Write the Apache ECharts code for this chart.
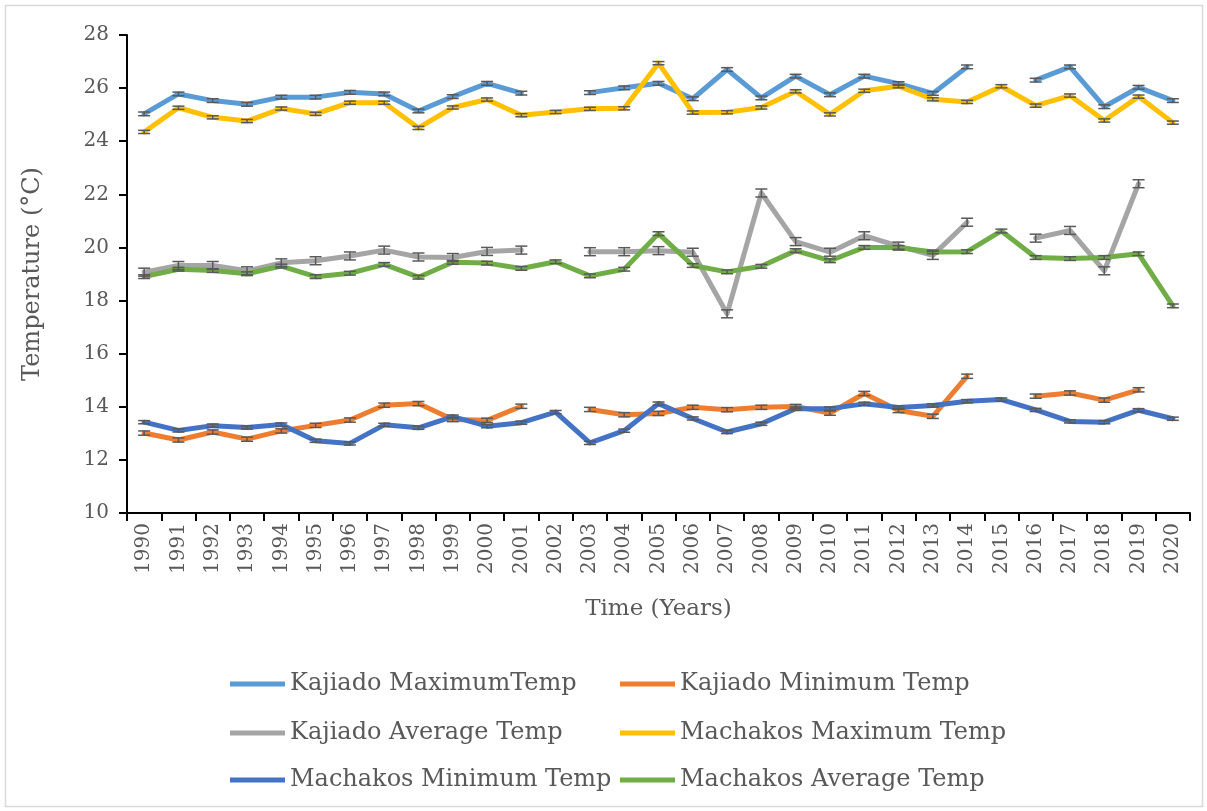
<!DOCTYPE html>
<html>
<head>
<meta charset="utf-8">
<script src="https://cdn.jsdelivr.net/npm/echarts@6/dist/echarts.min.js"></script>
<style>
html,body{margin:0;padding:0;background:#fff;}
#chart{width:1207px;height:811px;}
</style>
</head>
<body>
<div id="chart"></div>
<script>
const years = ['1990','1991','1992','1993','1994','1995','1996','1997','1998','1999','2000','2001','2002','2003','2004','2005','2006','2007','2008','2009','2010','2011','2012','2013','2014','2015','2016','2017','2018','2019','2020'];
const yTicks = {min: 10, max: 28, interval: 2};

const kajiadoMax = [25.03,25.78,25.53,25.39,25.66,25.66,25.84,25.78,25.14,25.68,26.18,25.81,null,25.83,26.01,26.18,25.6,26.7,25.63,26.45,25.75,26.45,26.17,25.8,26.8,null,26.3,26.8,25.3,26.03,25.53];
const kajiadoMin = [13.01,12.75,13.05,12.78,13.09,13.3,13.5,14.06,14.12,13.52,13.49,14.02,null,13.9,13.7,13.75,13.98,13.89,13.98,14.01,13.76,14.5,13.86,13.64,15.15,null,14.4,14.52,14.25,14.64,null];
const kajiadoAvg = [19.07,19.32,19.32,19.12,19.42,19.5,19.68,19.9,19.64,19.62,19.85,19.9,null,19.84,19.84,19.88,19.82,17.5,22.05,20.22,19.82,20.44,20.05,19.7,20.95,null,20.35,20.64,19.12,22.4,null];
const machakosMax = [24.35,25.26,24.9,24.76,25.23,25.03,25.45,25.45,24.5,25.27,25.57,24.98,25.1,25.22,25.24,26.94,25.08,25.09,25.27,25.88,25.01,25.9,26.07,25.58,25.48,26.07,25.34,25.72,24.78,25.68,24.7];
const machakosMin = [13.42,13.11,13.29,13.22,13.33,12.72,12.62,13.32,13.21,13.63,13.27,13.4,13.8,12.64,13.1,14.12,13.56,13.05,13.36,13.93,13.93,14.11,13.97,14.05,14.21,14.27,13.88,13.45,13.42,13.87,13.55];
const machakosAvg = [18.9,19.18,19.13,19.01,19.3,18.9,19.03,19.36,18.88,19.44,19.41,19.21,19.46,18.93,19.18,20.52,19.32,19.08,19.29,19.88,19.5,20.0,20.0,19.83,19.84,20.62,19.62,19.58,19.62,19.76,17.8];

const seriesNames = ['Kajiado MaximumTemp','Kajiado Minimum Temp','Kajiado Average Temp','Machakos Maximum Temp','Machakos Minimum Temp','Machakos Average Temp'];
const seriesValues = [kajiadoMax, kajiadoMin, kajiadoAvg, machakosMax, machakosMin, machakosAvg];
const seriesErrors = [0.07, 0.08, 0.15, 0.06, 0.06, 0.07];
const colors = ['#5B9BD5','#ED7D31','#A5A5A5','#FFC000','#4472C4','#70AD47'];

const FONT = 'DejaVu Serif';
const TXT = '#595959';

const chart = echarts.init(document.getElementById('chart'));

const lineSeries = seriesNames.map((n, i) => ({
  name: n,
  type: 'line',
  data: seriesValues[i],
  symbol: 'none',
  connectNulls: false,
  z: 2,
  lineStyle: {color: colors[i], width: 5, cap: 'round', join: 'round'},
  itemStyle: {color: colors[i]},
  emphasis: {disabled: true}
}));

const errSeries = seriesNames.map((n, i) => ({
  name: n + ' err',
  type: 'custom',
  z: 3,
  silent: true,
  data: seriesValues[i].map((v, k) => v == null ? null : [k, v - seriesErrors[i], v + seriesErrors[i]]).filter(d => d),
  encode: {x: 0, y: [1, 2]},
  renderItem: function (params, api) {
    const x = api.value(0);
    const lo = api.coord([x, api.value(1)]);
    const hi = api.coord([x, api.value(2)]);
    const hw = 6;
    const st = {stroke: '#595959', lineWidth: 1.5};
    return {
      type: 'group',
      children: [
        {type: 'line', shape: {x1: lo[0], y1: lo[1], x2: hi[0], y2: hi[1]}, style: st},
        {type: 'line', shape: {x1: lo[0]-hw, y1: lo[1], x2: lo[0]+hw, y2: lo[1]}, style: st},
        {type: 'line', shape: {x1: hi[0]-hw, y1: hi[1], x2: hi[0]+hw, y2: hi[1]}, style: st}
      ]
    };
  }
}));

const legendPos = [
  {left: 230, top: 672}, {left: 620, top: 672},
  {left: 230, top: 721}, {left: 620, top: 721},
  {left: 230, top: 768}, {left: 620, top: 768}
];
const legends = seriesNames.map((n, i) => ({
  data: [n],
  left: legendPos[i].left,
  top: legendPos[i].top,
  orient: 'horizontal',
  icon: 'rect',
  itemWidth: 55,
  itemHeight: 5,
  itemGap: 0,
  selectedMode: false,
  padding: 0,
  textStyle: {fontFamily: FONT, fontSize: 24, color: TXT}
}));

chart.setOption({
  animation: false,
  backgroundColor: '#fff',
  graphic: [{
    type: 'rect', shape: {x: 5.5, y: 5.5, width: 1197, height: 801},
    style: {fill: null, stroke: '#D9D9D9', lineWidth: 1.5}, silent: true
  }],
  legend: legends,
  grid: {left: 127, right: 17, top: 35, bottom: 298, containLabel: false},
  xAxis: {
    type: 'category',
    data: years,
    boundaryGap: true,
    name: 'Time (Years)',
    nameLocation: 'middle',
    nameGap: 85,
    nameTextStyle: {fontFamily: FONT, fontSize: 23, color: TXT},
    axisLine: {lineStyle: {color: '#000', width: 2}},
    axisTick: {show: true, inside: false, length: 8, interval: 0, lineStyle: {color: '#000', width: 2}},
    axisLabel: {rotate: 90, interval: 0, margin: 10, fontFamily: FONT, fontSize: 20, color: TXT},
    splitLine: {show: false}
  },
  yAxis: {
    type: 'value',
    min: yTicks.min, max: yTicks.max, interval: yTicks.interval,
    name: 'Temperature (°C)',
    nameLocation: 'middle',
    nameGap: 82,
    nameRotate: 90,
    nameTextStyle: {fontFamily: FONT, fontSize: 24, color: TXT},
    axisLine: {show: true, lineStyle: {color: '#000', width: 2}},
    axisTick: {show: true, inside: false, length: 8, lineStyle: {color: '#000', width: 2}},
    axisLabel: {margin: 18, fontFamily: FONT, fontSize: 20, color: TXT},
    splitLine: {show: false}
  },
  series: lineSeries.concat(errSeries)
});
</script>
</body>
</html>
